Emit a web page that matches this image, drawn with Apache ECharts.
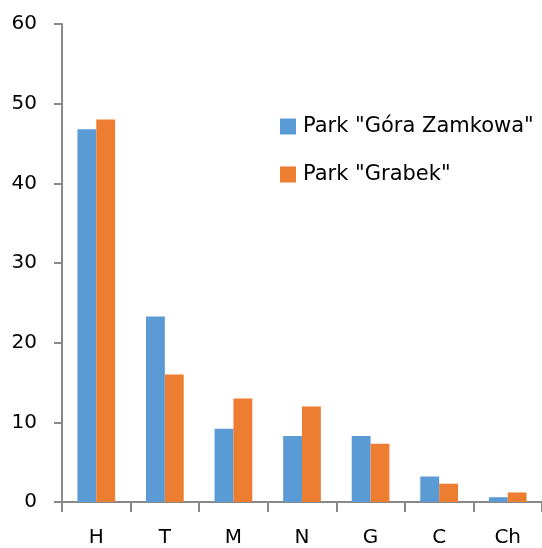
<!DOCTYPE html>
<html>
<head>
<meta charset="utf-8">
<script src="https://cdn.jsdelivr.net/npm/echarts@6/dist/echarts.min.js"></script>
<style>
  html, body { margin: 0; padding: 0; background: #fff; }
  #chart { width: 542px; height: 548px; }
</style>
</head>
<body>
<div id="chart"></div>
<script>
var categories = ['H', 'T', 'M', 'N', 'G', 'C', 'Ch'];
var goraZamkowa = [46.8, 23.3, 9.2, 8.3, 8.3, 3.2, 0.6];
var grabek = [48.0, 16.0, 13.0, 12.0, 7.3, 2.3, 1.2];
var seriesNames = ['Park "Góra Zamkowa"', 'Park "Grabek"'];

var chart = echarts.init(document.getElementById('chart'));
var font = '"DejaVu Sans", sans-serif';

chart.setOption({
  animation: false,
  color: ['#5b9bd5', '#ed7d31'],
  legend: {
    orient: 'vertical',
    left: 275,
    top: 111,
    icon: 'rect',
    itemWidth: 16,
    itemHeight: 16,
    itemGap: 27,
    textStyle: { fontFamily: font, fontSize: 21, color: '#000', padding: [0, 0, 0, 2] },
    data: seriesNames
  },
  grid: {
    left: 62,
    top: 24,
    width: 493,
    height: 479
  },
  xAxis: {
    type: 'category',
    data: categories,
    axisLine: { lineStyle: { color: '#898989', width: 2 } },
    axisTick: { show: true, length: 10, lineStyle: { color: '#898989', width: 2 } },
    axisLabel: { margin: 26, fontFamily: font, fontSize: 20, color: '#000' }
  },
  yAxis: {
    type: 'value',
    min: 0,
    max: 60,
    interval: 10,
    axisLine: { show: true, lineStyle: { color: '#898989', width: 2 } },
    axisTick: { show: true, length: 8, lineStyle: { color: '#898989', width: 2 } },
    splitLine: { show: false },
    axisLabel: { margin: 25, fontFamily: font, fontSize: 20, color: '#000' }
  },
  series: [
    {
      name: seriesNames[0],
      type: 'bar',
      data: goraZamkowa,
      barGap: '0%',
      barCategoryGap: '45%'
    },
    {
      name: seriesNames[1],
      type: 'bar',
      data: grabek,
      barGap: '0%',
      barCategoryGap: '45%'
    }
  ]
});
</script>
</body>
</html>
